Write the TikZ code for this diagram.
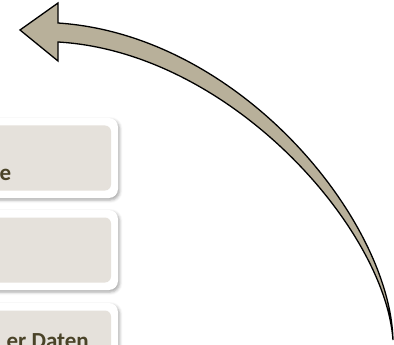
\documentclass[tikz,border=0pt]{standalone}
\usepackage{fontspec}
\setmainfont{Carlito}
\usetikzlibrary{shadows.blur}
\definecolor{boxfill}{HTML}{E5E1DB}
\definecolor{boxtext}{HTML}{4A4328}
\definecolor{arrowfill}{HTML}{B8B09A}
\newcommand{\boxfont}{\fontsize{23pt}{28pt}\selectfont\bfseries}
\begin{document}
\begin{tikzpicture}[x=1pt,y=-1pt,
  frame/.style={rectangle,rounded corners=9pt,fill=white,minimum width=232pt,
    minimum height=80pt,inner sep=0pt,
    blur shadow={shadow xshift=1.5pt,shadow yshift=-2pt,shadow blur radius=3pt,shadow opacity=35}},
  panel/.style={rectangle,rounded corners=6pt,fill=boxfill,minimum width=218pt,
    minimum height=65pt,inner sep=0pt},
  boxlabel/.style={anchor=base east,inner sep=0pt,text=boxtext,font=\boxfont}]

  \useasboundingbox (0,0) rectangle (394,345);
  \clip (0,0) rectangle (394,345);

  % boxes
  \node[frame] (f1) at (2,158) {};
  \node[panel] (p1) at (2,158) {};
  \node[boxlabel] (t1) at (11.5,180) {e};

  \node[frame] (f2) at (2,250) {};
  \node[panel] (p2) at (2,250) {};

  \node[frame] (f3) at (2,343) {};
  \node[panel] (p3) at (2,343) {};
  \node[boxlabel] (t3) at (89,348) {er Daten};

  % curved arrow
  \draw[fill=arrowfill,line width=1.3pt,line join=miter]
    (20,30) -- (58,3) -- (58,23)
    .. controls (240,35) and (390,220) .. (393,340)
    .. controls (385,228) and (230,52) .. (58,42)
    -- (58,61) -- cycle;
\end{tikzpicture}
\end{document}
